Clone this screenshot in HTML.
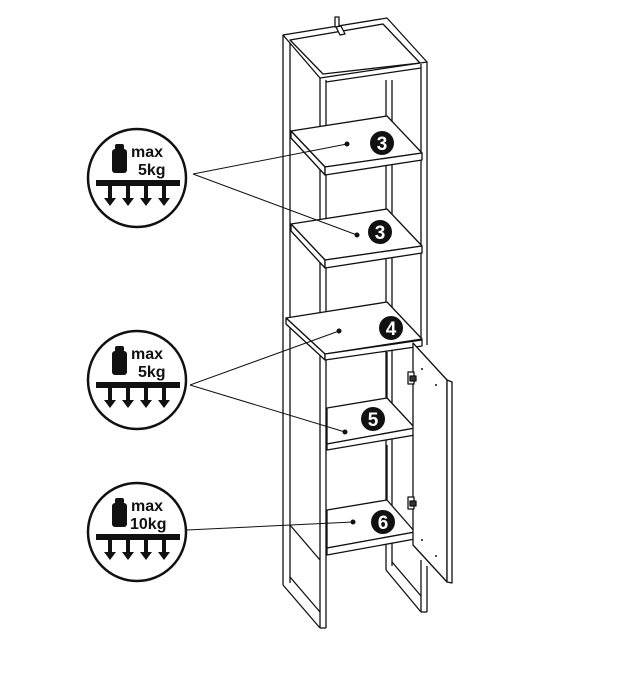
<!DOCTYPE html>
<html><head><style>
html,body{margin:0;padding:0;background:#fff;}
svg{display:block;}
text{font-family:"Liberation Sans",sans-serif;font-weight:bold;}
</style></head><body>
<svg width="620" height="687" viewBox="0 0 620 687" xmlns="http://www.w3.org/2000/svg">
<defs>
<g id="arrows" fill="#111">
  <rect x="-29" y="8" width="4" height="14"/><polygon points="-33,20 -21,20 -27,28"/>
  <rect x="-11" y="8" width="4" height="14"/><polygon points="-15,20 -3,20 -9,28"/>
  <rect x="7" y="8" width="4" height="14"/><polygon points="3,20 15,20 9,28"/>
  <rect x="25" y="8" width="4" height="14"/><polygon points="21,20 33,20 27,28"/>
</g>
<g id="icon">
  <circle cx="0" cy="0" r="49" fill="#fff" stroke="#111" stroke-width="2.5"/>
  <rect x="-25" y="-29" width="15" height="24" rx="3" fill="#111"/>
  <rect x="-22" y="-34" width="9" height="6" rx="2" fill="#111"/>
  <rect x="-41" y="2" width="84" height="6" fill="#111"/>
  <use href="#arrows"/>
</g>
</defs>
<g stroke="#111" stroke-width="1.3" fill="#fff" stroke-linejoin="round">
  <!-- back/outer verticals -->
  <line x1="283" y1="35" x2="283" y2="585"/>
  <line x1="290" y1="42" x2="290" y2="583"/>
  <line x1="386" y1="80" x2="386" y2="570"/>
  <line x1="392" y1="80" x2="392" y2="566"/>
  <!-- top -->
  <polygon points="283,35 387,18 427,62 320,78"/>
  <polygon points="290,40 383,24 420,63 323,74" fill="none"/>
  <line x1="320" y1="78" x2="320" y2="628"/>
  <line x1="326" y1="80" x2="326" y2="628"/>
  <line x1="320" y1="628" x2="326" y2="628"/>
  <line x1="421" y1="64" x2="421" y2="345"/>
  <line x1="427" y1="62" x2="427" y2="345"/>
  <line x1="326" y1="82" x2="421" y2="68"/>
  <!-- bottom frame -->
  <line x1="283" y1="585" x2="320" y2="628"/>
  <line x1="290" y1="577" x2="320" y2="612"/>
  <line x1="386" y1="570" x2="421" y2="612"/>
  <line x1="392" y1="562" x2="421" y2="596"/>
  <line x1="421" y1="560" x2="421" y2="612"/>
  <line x1="427" y1="566" x2="427" y2="612"/>
  <line x1="421" y1="612" x2="427" y2="612"/>
  <!-- hanger -->
  <rect x="335" y="17" width="4" height="10"/>
  <polygon points="336,27 341,26 345,34 340,35"/>
  <!-- shelf 3a -->
  <polygon points="291,131 387,116 422,153 325,167"/>
  <polygon points="291,131 325,167 325,175 291,138"/>
  <polygon points="325,167 422,153 422,160 325,175"/>
  <!-- shelf 3b -->
  <polygon points="291,224 387,209 422,246 325,260"/>
  <polygon points="291,224 325,260 325,268 291,231"/>
  <polygon points="325,260 422,246 422,253 325,268"/>
  <!-- shelf 4 -->
  <polygon points="286,318 387,302 422,339 325,354"/>
  <polygon points="286,318 325,354 325,360 286,324"/>
  <polygon points="325,354 422,340 422,346 325,360"/>
  <!-- inner cabinet walls -->
  <line x1="387" y1="352" x2="387" y2="400"/>
  <line x1="387" y1="445" x2="387" y2="505"/>
  <!-- shelf 5 -->
  <polygon points="327,408 387,398 415,428 327,444"/>
  <polygon points="327,444 415,428 415,435 327,450"/>
  <!-- shelf 6 -->
  <polygon points="327,510 387,500 415,532 327,548"/>
  <polygon points="327,548 415,532 415,539 327,555"/>
  <line x1="290" y1="525" x2="320" y2="560"/>
  <!-- door -->
  <polygon points="413,343 447,380 447,582 413,545"/>
  <polygon points="447,380 452,382 452,583 447,582"/>
  <rect x="408" y="372" width="6" height="12" fill="#fff"/>
  <rect x="410" y="376" width="6" height="5" fill="#333"/>
  <rect x="408" y="497" width="6" height="12" fill="#fff"/>
  <rect x="410" y="501" width="6" height="5" fill="#333"/>
</g>
<g fill="#111"><circle cx="422" cy="369" r="1"/><circle cx="436" cy="385" r="1"/><circle cx="422" cy="540" r="1"/><circle cx="436" cy="556" r="1"/></g>
<g stroke="#111" stroke-width="1">
  <line x1="193" y1="174" x2="347" y2="144"/>
  <line x1="193" y1="174" x2="357" y2="235"/>
  <line x1="190" y1="385" x2="339" y2="331"/>
  <line x1="190" y1="385" x2="345" y2="432"/>
  <line x1="187" y1="530" x2="353" y2="522"/>
</g>
<g fill="#111">
  <circle cx="347" cy="144" r="2.5"/><circle cx="357" cy="235" r="2.5"/>
  <circle cx="339" cy="331" r="2.5"/><circle cx="345" cy="432" r="2.5"/>
  <circle cx="353" cy="522" r="2.5"/>
</g>
<g>
  <circle cx="382" cy="143" r="12" fill="#111"/><text x="382" y="150" font-size="19" fill="#fff" text-anchor="middle">3</text>
  <circle cx="380" cy="232" r="12" fill="#111"/><text x="380" y="239" font-size="19" fill="#fff" text-anchor="middle">3</text>
  <circle cx="391" cy="328" r="12" fill="#111"/><text x="391" y="335" font-size="19" fill="#fff" text-anchor="middle">4</text>
  <circle cx="373" cy="419" r="12" fill="#111"/><text x="373" y="426" font-size="19" fill="#fff" text-anchor="middle">5</text>
  <circle cx="383" cy="522" r="12" fill="#111"/><text x="383" y="529" font-size="19" fill="#fff" text-anchor="middle">6</text>
</g>
<g transform="translate(137,178)"><use href="#icon"/><text x="-6" y="-21" font-size="16" fill="#111">max</text><text x="1" y="-3" font-size="16" fill="#111">5kg</text></g>
<g transform="translate(137,380)"><use href="#icon"/><text x="-6" y="-21" font-size="16" fill="#111">max</text><text x="1" y="-3" font-size="16" fill="#111">5kg</text></g>
<g transform="translate(137,532)"><use href="#icon"/><text x="-6" y="-21" font-size="16" fill="#111">max</text><text x="-7" y="-3" font-size="16" fill="#111">10kg</text></g>
</svg>
</body></html>
